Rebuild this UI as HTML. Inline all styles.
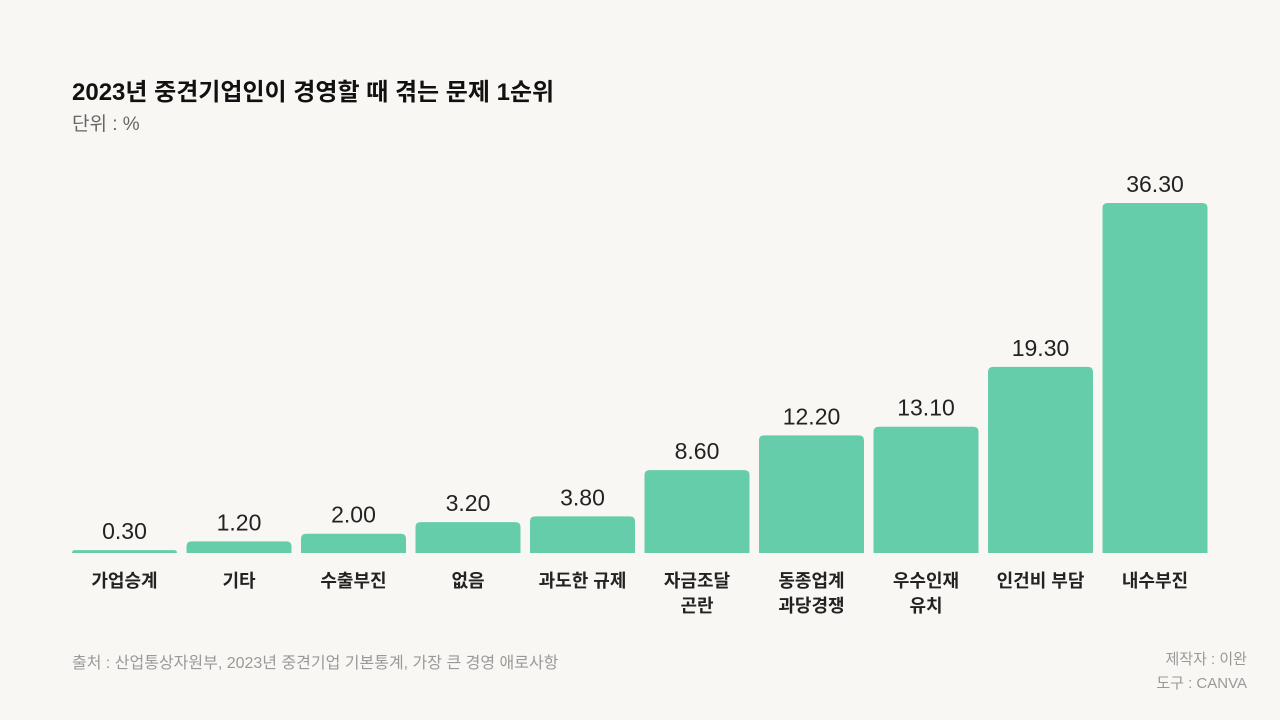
<!DOCTYPE html>
<html><head><meta charset="utf-8"><style>
body{margin:0;width:1280px;height:720px;background:#f9f7f3;font-family:"Liberation Sans","Noto Sans CJK KR",sans-serif;overflow:hidden;position:relative}
.t{position:absolute;white-space:nowrap}
</style></head><body>
<div class="t" style="left:72px;top:72px;font-size:24px;font-weight:bold;color:#111">2023년 중견기업인이 경영할 때 겪는 문제 1순위</div>
<div class="t" style="left:72px;top:109px;font-size:19px;color:#666">단위 : %</div>
<svg id="chart" width="1280" height="720" style="position:absolute;left:0;top:0"></svg>
<div class="t" style="left:72px;top:649px;font-size:16px;color:#999">출처 : 산업통상자원부, 2023년 중견기업 기본통계, 가장 큰 경영 애로사항</div>
<div class="t" style="right:33px;top:648px;font-size:15px;color:#999;text-align:right;line-height:24px">제작자 : 이완<br>도구 : CANVA</div>
<script>
const categories=[["가업승계"],["기타"],["수출부진"],["없음"],["과도한 규제"],["자금조달","곤란"],["동종업계","과당경쟁"],["우수인재","유치"],["인건비 부담"],["내수부진"]];
const values=[0.3,1.2,2.0,3.2,3.8,8.6,12.2,13.1,19.3,36.3];
const valueLabels=["0.30","1.20","2.00","3.20","3.80","8.60","12.20","13.10","19.30","36.30"];
const svg=document.getElementById('chart');const NS='http://www.w3.org/2000/svg';
const base=553,scale=350/36.3,x0=72,step=114.5,bw=105;
function y(v){return base-v*scale;}
values.forEach((v,i)=>{
 const x=x0+i*step,top=y(v),h=base-top,r=Math.min(5,h);
 const p=document.createElementNS(NS,'path');
 p.setAttribute('d',`M${x},${base}V${top+r}Q${x},${top} ${x+r},${top}H${x+bw-r}Q${x+bw},${top} ${x+bw},${top+r}V${base}Z`);
 p.setAttribute('fill','#66cdaa');
 
 
 svg.appendChild(p);
 const t=document.createElementNS(NS,'text');
 t.setAttribute('x',x+bw/2);t.setAttribute('y',top-11);t.setAttribute('text-anchor','middle');
 t.setAttribute('font-size','23');t.setAttribute('fill','#222');t.textContent=valueLabels[i];
 
 
 svg.appendChild(t);
 categories[i].forEach((line,j)=>{
  const c=document.createElementNS(NS,'text');
  c.setAttribute('x',x+bw/2);c.setAttribute('y',587+j*25);c.setAttribute('text-anchor','middle');
  c.setAttribute('font-size','18');c.setAttribute('font-weight','bold');c.setAttribute('fill','#222');c.textContent=line;
  
  
  svg.appendChild(c);
 });
});
</script>
</body></html>
